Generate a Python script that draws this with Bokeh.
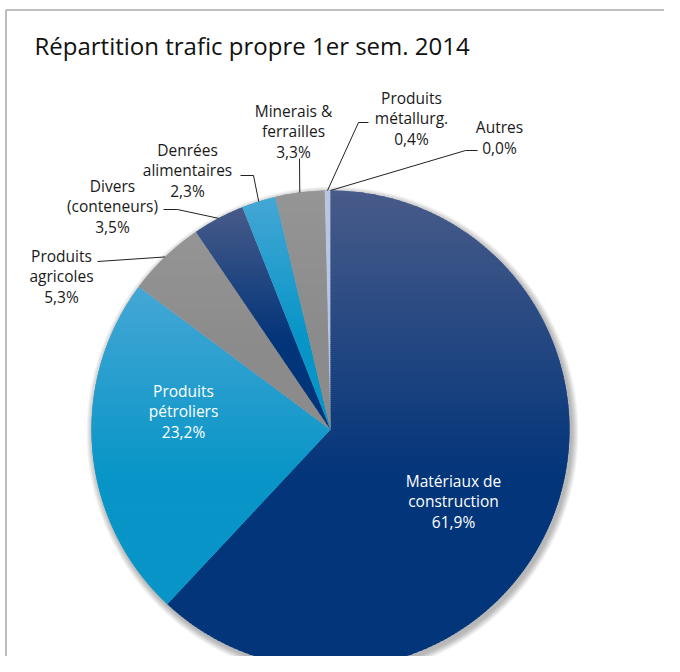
import math
from bokeh.plotting import figure
from bokeh.models import Range1d
from bokeh.core.properties import value
from bokeh.embed import file_html
from bokeh.resources import INLINE

# ---------------- data ----------------
chart_title = "Répartition trafic propre 1er sem. 2014"
categories = ["Matériaux de\nconstruction", "Produits\npétroliers", "Produits\nagricoles",
              "Divers\n(conteneurs)", "Denrées\nalimentaires", "Minerais &\nferrailles",
              "Produits\nmétallurg.", "Autres"]
shares = [61.9, 23.2, 5.3, 3.5, 2.3, 3.3, 0.4, 0.0]

# ---------------- style / layout ----------------
W, H = 664, 656
PX0, PY0 = 0, 8              # observed page offset of the figure


def dy(page_y):               # page y -> data y (data y up)
    return (PY0 + H) - page_y


CX, CY, R = 330, dy(429), 239

top_cols = ["#485b89", "#45a7d5", "#959595", "#485b89", "#45a7d5", "#959595", "#8b9dc6", "#b8c6e0"]
bot_cols = ["#03357a", "#0895c7", "#8b8b8b", "#03357a", "#0895c7", "#8b8b8b", "#8b9dc6", "#b8c6e0"]
inside = [True, True, False, False, False, False, False, False]
label_pos = [(453, 501), (183, 411), (61, 276), (112, 206), (187, 170), (293, 131), (411, 118), (499, 137)]
elbows = [None, None, [(97, 261)], [(163, 209), (177, 209)], [(240, 175), (253, 175)],
          [(299, 158)], [(368, 122), (358, 122)], [(477, 150), (465, 150)]]

p = figure(width=W, height=H, output_backend="svg", toolbar_location=None,
           x_range=Range1d(PX0, PX0 + W), y_range=Range1d(PY0, PY0 + H),
           min_border=0, background_fill_color="white", border_fill_color="white")
p.axis.visible = False
p.grid.visible = False
p.outline_line_color = None

# frame (top and left edges)
p.line([5.5, PX0 + W + 20], [dy(9.5), dy(9.5)], line_color="#a8a8a8", line_width=1.5)
p.line([5.5, 5.5], [dy(9.5), PY0 - 20], line_color="#a8a8a8", line_width=1.5)

# soft shadow
for d in [7, 6, 5, 4, 3, 2, 1]:
    p.circle(x=[CX + 2], y=[CY - 3], radius=R + d, fill_color="black",
             fill_alpha=0.045, line_color=None)

total = sum(shares)
fracs = [s / total for s in shares]
cum = [0.0]
for f in fracs:
    cum.append(cum[-1] + f)
starts = [math.pi / 2 - 2 * math.pi * cum[i + 1] for i in range(len(shares))]
ends = [math.pi / 2 - 2 * math.pi * cum[i] for i in range(len(shares))]
mids = [math.pi / 2 - 2 * math.pi * (cum[i] + cum[i + 1]) / 2 for i in range(len(shares))]

# base slices
p.wedge(x=CX, y=CY, radius=R, start_angle=starts, end_angle=ends,
        fill_color=bot_cols, line_color=None, direction="anticlock")


def hexrgb(h):
    h = h.lstrip("#")
    return tuple(int(h[i:i + 2], 16) for i in (0, 2, 4))


def mix(c1, c2, t):
    a, b = hexrgb(c1), hexrgb(c2)
    return "#%02x%02x%02x" % tuple(int(round(a[k] + (b[k] - a[k]) * t)) for k in range(3))


def clip(poly, lo, hi):
    def cl(pts, inside_fn, y0):
        out = []
        n = len(pts)
        for i in range(n):
            cur, prev = pts[i], pts[i - 1]
            ci, pi_ = inside_fn(cur), inside_fn(prev)
            if ci:
                if not pi_:
                    t = (y0 - prev[1]) / (cur[1] - prev[1])
                    out.append((prev[0] + t * (cur[0] - prev[0]), y0))
                out.append(cur)
            elif pi_:
                t = (y0 - prev[1]) / (cur[1] - prev[1])
                out.append((prev[0] + t * (cur[0] - prev[0]), y0))
        return out
    pts = cl(poly, lambda q: q[1] >= lo, lo)
    if not pts:
        return pts
    return cl(pts, lambda q: q[1] <= hi, hi)


# vertical gradient overlay per slice
bx, by, bc = [], [], []
for i in range(len(shares)):
    if fracs[i] <= 0 or top_cols[i] == bot_cols[i]:
        continue
    n = max(4, int(abs(ends[i] - starts[i]) * 180 / math.pi) + 2)
    poly = [(CX, CY)]
    for k in range(n + 1):
        a = ends[i] - (ends[i] - starts[i]) * k / n
        poly.append((CX + R * math.cos(a), CY + R * math.sin(a)))
    ytop = max(q[1] for q in poly)
    ybot = min(q[1] for q in poly)
    step = 2.0
    y = ytop
    while y > ybot:
        lo, hi = y - step, y
        pts = clip(poly, lo - 0.6, hi + 0.6)
        if len(pts) >= 3:
            t = (ytop - (lo + hi) / 2) / (ytop - ybot)
            bx.append([q[0] for q in pts])
            by.append([q[1] for q in pts])
            bc.append(mix(top_cols[i], bot_cols[i], min(1.0, t / 0.6)))
        y -= step
p.patches(xs=bx, ys=by, fill_color=bc, line_color=None)

# leader lines
for i in range(len(shares)):
    if elbows[i] is None:
        continue
    xs = [e[0] for e in elbows[i]] + [CX + R * math.cos(mids[i])]
    ys = [dy(e[1]) for e in elbows[i]] + [CY + R * math.sin(mids[i])]
    p.line(xs, ys, line_color="#222222", line_width=1.0)

# labels
FONT = value("Open Sans")
for i in range(len(shares)):
    txt = categories[i] + "\n" + ("%.1f" % shares[i]).replace(".", ",") + "%"
    lx, ly = label_pos[i]
    p.text(x=[lx], y=[dy(ly)], text=[txt], text_align="center", text_baseline="middle",
           text_font=FONT, text_font_size="15.5px", text_line_height=0.93,
           text_color="white" if inside[i] else "#1a1a1a")

p.text(x=[34], y=[dy(45)], text=[chart_title], text_align="left", text_baseline="middle",
       text_font=FONT, text_font_size="24px", text_color="#111111")

open("out.html", "w").write(file_html(p, INLINE))
